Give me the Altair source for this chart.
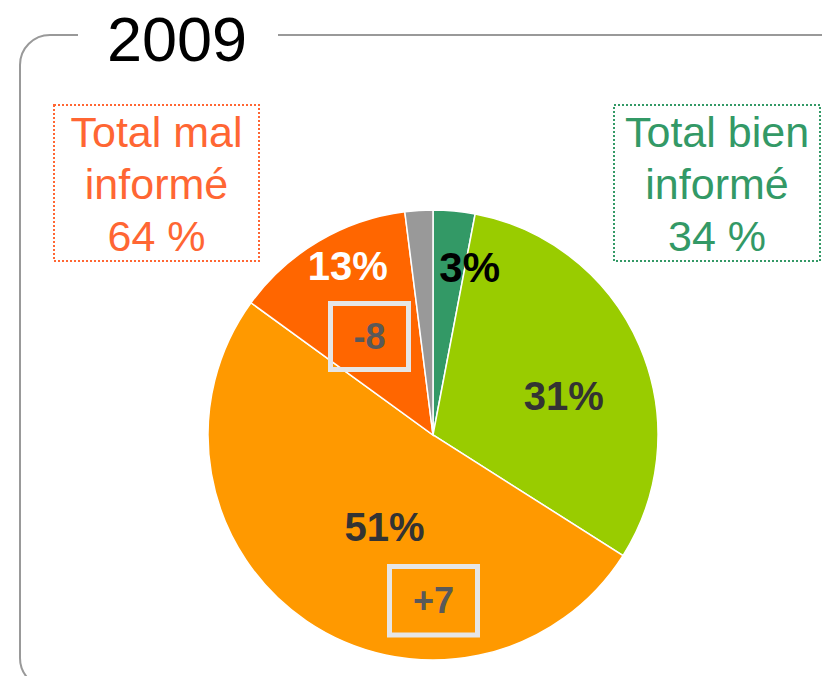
import altair as alt
import pandas as pd

# ---- data ----
categories = ["Très bien informé", "Plutôt bien informé", "Plutôt mal informé", "Très mal informé", "NSP"]
values = [3, 31, 51, 13, 2]
labels = ["3%", "31%", "51%", "13%", ""]
changes = ["", "", "+7", "-8", ""]
group_names = ["Total mal\ninformé", "Total bien\ninformé"]
group_totals = [64, 34]
year = "2009"

# ---- style ----
colors = ["#339966", "#99CC00", "#FF9900", "#FF6600", "#999999"]
FONT = "Liberation Sans"
W, H = 814, 668
CX, CY, R = 425, 427, 225

df = pd.DataFrame({"cat": categories, "value": values, "label": labels,
                   "change": changes, "order": list(range(len(values)))})
one = pd.DataFrame({"k": [0]})

pie = alt.Chart(df).mark_arc(outerRadius=R, stroke="white", strokeWidth=1.5).encode(
    theta=alt.Theta("value:Q", stack=True),
    order=alt.Order("order:Q"),
    color=alt.Color("cat:N", scale=alt.Scale(domain=categories, range=colors), legend=None),
    x=alt.value(CX), y=alt.value(CY),
)

# label placement style per category: radius, dx, dy, colour, size
label_style = {
    categories[0]: (166, 21, -1, "#000000", 42),
    categories[1]: (136, 6, 17, "#333333", 40),
    categories[2]: (106, 11, 6, "#333333", 40),
    categories[3]: (187, 10, -6, "#FFFFFF", 40),
}

def mid_base():
    return (alt.Chart(df)
            .transform_window(cum="sum(value)", sort=[alt.SortField("order")])
            .transform_joinaggregate(total="sum(value)")
            .transform_calculate(mid="2*PI*(datum.cum - datum.value/2)/datum.total"))

label_layers = []
for cat, (r, dx, dy, col, fs) in label_style.items():
    label_layers.append(
        mid_base().transform_filter(alt.datum.cat == cat)
        .mark_text(radius=r, dx=dx, dy=dy, fontSize=fs, fontWeight="bold", font=FONT,
                   color=col, align="center", baseline="middle")
        .encode(theta=alt.Theta("mid:Q", scale=None), text="label:N",
                x=alt.value(CX), y=alt.value(CY))
    )

# change annotation boxes
change_boxes = {
    categories[2]: (381.5, 469.5, 558.5, 627),
    categories[3]: (322.5, 400.5, 295.5, 361.5),
}
change_layers = []
for cat, (x1, x2, y1, y2) in change_boxes.items():
    change_layers.append(
        alt.Chart(one).mark_rect(fillOpacity=0, stroke="#E6E6E6", strokeWidth=5).encode(
            x=alt.value(x1), x2=alt.value(x2), y=alt.value(y1), y2=alt.value(y2))
    )
    change_layers.append(
        alt.Chart(df).transform_filter(alt.datum.cat == cat)
        .mark_text(fontSize=36, fontWeight="bold", font=FONT, color="#595959",
                   align="center", baseline="middle")
        .encode(text="change:N", x=alt.value((x1 + x2) / 2), y=alt.value((y1 + y2) / 2 + 1))
    )

# frame
frame = alt.Chart(one).mark_rect(fillOpacity=0, stroke="#999999", strokeWidth=2, cornerRadius=30).encode(
    x=alt.value(12), x2=alt.value(860), y=alt.value(27), y2=alt.value(680))
cover = alt.Chart(one).mark_rect(color="white").encode(
    x=alt.value(70), x2=alt.value(270), y=alt.value(18), y2=alt.value(36))
title = alt.Chart(one).mark_text(fontSize=63, font=FONT, color="#000000", align="center",
                                 baseline="alphabetic").encode(
    text=alt.value(year), x=alt.value(169), y=alt.value(53))

# group totals boxes
gdf = pd.DataFrame({"name": group_names, "total": group_totals})
gdf["txt"] = gdf["name"] + "\n" + gdf["total"].astype(str) + " %"
group_boxes = [
    (0, 46, 251, "#FF6633"),
    (1, 606, 812, "#339966"),
]
group_layers = []
for i, x1, x2, col in group_boxes:
    group_layers.append(
        alt.Chart(one).mark_rect(fillOpacity=0, stroke=col, strokeWidth=2, strokeDash=[2, 2]).encode(
            x=alt.value(x1), x2=alt.value(x2), y=alt.value(97), y2=alt.value(253))
    )
    group_layers.append(
        alt.Chart(gdf.iloc[[i]]).mark_text(fontSize=43, font=FONT, color=col, align="center",
                                           baseline="alphabetic", lineBreak="\n", lineHeight=52)
        .encode(text="txt:N", x=alt.value((x1 + x2) / 2), y=alt.value(139))
    )

chart = alt.layer(frame, cover, title, pie, *label_layers, *change_layers, *group_layers).properties(
    width=W, height=H, padding=0, autosize=alt.AutoSizeParams(type="none"), background="white"
).configure_view(stroke=None)

chart.save("out.html", embed_options={"renderer": "svg", "actions": False})
